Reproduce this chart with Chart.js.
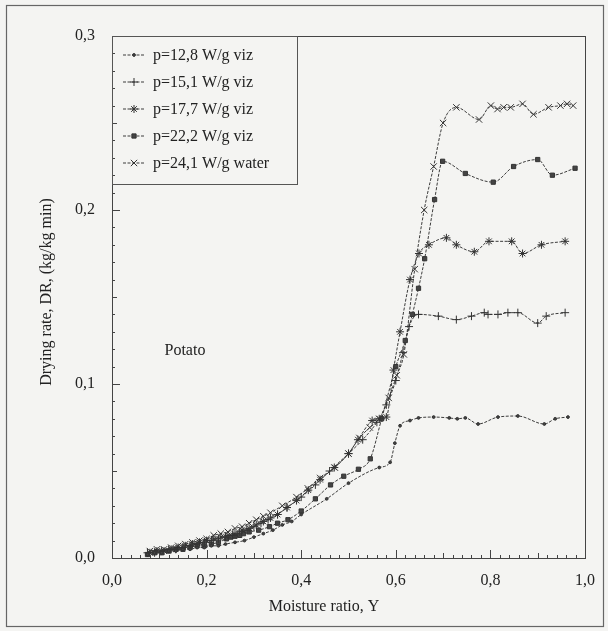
<!DOCTYPE html>
<html>
<head>
<meta charset="utf-8">
<script src="https://cdn.jsdelivr.net/npm/chart.js@4/dist/chart.umd.min.js"></script>
<style>
  body { margin: 0; background: #f4f4f2; }
  canvas { display: block; }
</style>
</head>
<body>
<canvas id="dryChart" width="608" height="631"></canvas>
<script>
let seriesLabels = [
  "p=12,8 W/g viz",
  "p=15,1 W/g viz",
  "p=17,7 W/g viz",
  "p=22,2 W/g viz",
  "p=24,1 W/g water",
];
let pointStyles = ["circle", "cross", "star", "rect", "crossRot"];
let pointSizes = [1.4, 4, 4, 3, 4.5];

// moisture ratio (x) and drying rate (y) for each power level
let moisture12_8 = [0.075, 0.09, 0.105, 0.12, 0.135, 0.15, 0.165, 0.18, 0.195, 0.21, 0.225, 0.24, 0.26, 0.28, 0.30, 0.32, 0.34, 0.36, 0.38, 0.40, 0.454, 0.50, 0.565, 0.588, 0.598, 0.609, 0.63, 0.648, 0.68, 0.713, 0.73, 0.747, 0.774, 0.816, 0.858, 0.914, 0.937, 0.964];
let rate12_8 = [0.002, 0.003, 0.003, 0.004, 0.004, 0.005, 0.005, 0.006, 0.006, 0.007, 0.007, 0.008, 0.009, 0.010, 0.012, 0.014, 0.016, 0.019, 0.021, 0.025, 0.034, 0.043, 0.052, 0.055, 0.066, 0.076, 0.079, 0.0805, 0.081, 0.0805, 0.080, 0.0805, 0.077, 0.081, 0.0816, 0.077, 0.080, 0.081];

let moisture15_1 = [0.075, 0.09, 0.105, 0.12, 0.135, 0.15, 0.165, 0.18, 0.195, 0.21, 0.225, 0.24, 0.255, 0.27, 0.285, 0.30, 0.315, 0.33, 0.35, 0.37, 0.40, 0.43, 0.46, 0.50, 0.53, 0.56, 0.58, 0.60, 0.615, 0.628, 0.648, 0.69, 0.728, 0.76, 0.787, 0.795, 0.816, 0.837, 0.858, 0.900, 0.918, 0.958];
let rate15_1 = [0.003, 0.003, 0.004, 0.005, 0.005, 0.006, 0.007, 0.008, 0.009, 0.010, 0.011, 0.012, 0.013, 0.015, 0.016, 0.018, 0.020, 0.022, 0.025, 0.029, 0.035, 0.042, 0.050, 0.060, 0.068, 0.078, 0.088, 0.102, 0.118, 0.133, 0.140, 0.139, 0.137, 0.139, 0.141, 0.140, 0.140, 0.141, 0.141, 0.135, 0.139, 0.141];

let moisture17_7 = [0.08, 0.095, 0.11, 0.125, 0.14, 0.155, 0.17, 0.185, 0.2, 0.215, 0.23, 0.245, 0.26, 0.275, 0.29, 0.305, 0.32, 0.335, 0.35, 0.37, 0.39, 0.415, 0.44, 0.47, 0.50, 0.52, 0.55, 0.565, 0.58, 0.595, 0.609, 0.63, 0.649, 0.67, 0.707, 0.728, 0.766, 0.797, 0.845, 0.868, 0.908, 0.958];
let rate17_7 = [0.003, 0.004, 0.004, 0.005, 0.006, 0.007, 0.008, 0.009, 0.010, 0.011, 0.012, 0.013, 0.014, 0.016, 0.017, 0.019, 0.021, 0.023, 0.025, 0.029, 0.033, 0.039, 0.045, 0.052, 0.060, 0.068, 0.079, 0.080, 0.081, 0.108, 0.130, 0.160, 0.175, 0.180, 0.184, 0.180, 0.176, 0.182, 0.182, 0.175, 0.180, 0.182];

let moisture22_2 = [0.075, 0.09, 0.105, 0.12, 0.135, 0.15, 0.165, 0.18, 0.195, 0.21, 0.225, 0.242, 0.251, 0.26, 0.27, 0.278, 0.29, 0.31, 0.333, 0.35, 0.372, 0.40, 0.43, 0.462, 0.49, 0.521, 0.546, 0.57, 0.60, 0.62, 0.635, 0.648, 0.661, 0.682, 0.699, 0.747, 0.806, 0.849, 0.900, 0.931, 0.979];
let rate22_2 = [0.002, 0.003, 0.003, 0.004, 0.005, 0.005, 0.006, 0.007, 0.007, 0.008, 0.009, 0.011, 0.012, 0.0125, 0.013, 0.014, 0.015, 0.016, 0.018, 0.020, 0.022, 0.027, 0.034, 0.042, 0.047, 0.051, 0.057, 0.080, 0.110, 0.125, 0.140, 0.155, 0.172, 0.206, 0.228, 0.221, 0.216, 0.225, 0.229, 0.220, 0.224];

let moisture24_1 = [0.08, 0.095, 0.11, 0.125, 0.14, 0.155, 0.17, 0.185, 0.2, 0.215, 0.23, 0.245, 0.26, 0.275, 0.29, 0.305, 0.32, 0.335, 0.36, 0.39, 0.414, 0.44, 0.471, 0.50, 0.523, 0.545, 0.565, 0.585, 0.602, 0.617, 0.64, 0.66, 0.68, 0.70, 0.728, 0.776, 0.801, 0.815, 0.828, 0.843, 0.868, 0.891, 0.923, 0.948, 0.962, 0.975];
let rate24_1 = [0.004, 0.005, 0.005, 0.006, 0.007, 0.008, 0.009, 0.010, 0.011, 0.013, 0.014, 0.015, 0.017, 0.018, 0.020, 0.022, 0.024, 0.026, 0.030, 0.035, 0.040, 0.046, 0.052, 0.060, 0.069, 0.075, 0.080, 0.092, 0.105, 0.117, 0.166, 0.200, 0.225, 0.250, 0.259, 0.252, 0.260, 0.258, 0.259, 0.259, 0.261, 0.255, 0.259, 0.260, 0.261, 0.260];

let xTickLabels = ["0,0", "0,2", "0,4", "0,6", "0,8", "1,0"];
let yTickLabels = ["0,0", "0,1", "0,2", "0,3"];

let inkColor = "#3c3c3c";
let serif = "'Liberation Serif', 'DejaVu Serif', serif";

function toPoints(xs, ys) {
  let pts = [];
  for (let i = 0; i < xs.length; i++) {
    pts.push({ x: xs[i], y: ys[i] });
  }
  return pts;
}

function getDatasets() {
  let xs = [moisture12_8, moisture15_1, moisture17_7, moisture22_2, moisture24_1];
  let ys = [rate12_8, rate15_1, rate17_7, rate22_2, rate24_1];
  return seriesLabels.map((label, i) => ({
    label: label,
    data: toPoints(xs[i], ys[i]),
    borderColor: inkColor,
    backgroundColor: inkColor,
    borderWidth: 1,
    borderDash: [3, 1.5],
    pointStyle: pointStyles[i],
    pointRadius: pointSizes[i],
    pointBorderWidth: 1,
    pointBorderColor: "#333",
    pointBackgroundColor: "#444",
    cubicInterpolationMode: "monotone",
    fill: false,
  }));
}

// page background, frame, box around the plot and inward ticks
let framePlugin = {
  id: "frame",
  beforeDraw(c) {
    let ctx = c.ctx;
    ctx.save();
    ctx.fillStyle = "#f4f4f2";
    ctx.fillRect(0, 0, c.width, c.height);
    ctx.strokeStyle = "#666";
    ctx.lineWidth = 1.2;
    ctx.strokeRect(6.5, 5.5, 597, 621);
    ctx.restore();
  },
  afterDraw(c) {
    let ctx = c.ctx;
    let a = c.chartArea;
    let xs = c.scales.x;
    let ys = c.scales.y;
    ctx.save();
    ctx.strokeStyle = "#444";
    ctx.lineWidth = 1;
    ctx.strokeRect(a.left + 0.5, a.top + 0.5, a.right - a.left, a.bottom - a.top);

    ctx.beginPath();
    for (let i = 0; i <= 50; i++) {
      let px = Math.round(xs.getPixelForValue(i / 50)) + 0.5;
      let len = i % 10 === 0 ? 8 : i % 5 === 0 ? 5 : 3;
      ctx.moveTo(px, a.bottom);
      ctx.lineTo(px, a.bottom - len);
    }
    for (let i = 0; i <= 30; i++) {
      let py = Math.round(ys.getPixelForValue(i / 100)) + 0.5;
      let len = i % 10 === 0 ? 8 : i % 5 === 0 ? 5 : 3;
      ctx.moveTo(a.left, py);
      ctx.lineTo(a.left + len, py);
    }
    ctx.stroke();

    // axis titles and the sample name
    ctx.fillStyle = "#222";
    ctx.font = "16px " + serif;
    ctx.textAlign = "center";
    ctx.textBaseline = "middle";
    ctx.fillText("Moisture ratio, Y", 324, 607);
    ctx.save();
    ctx.translate(47, 292);
    ctx.rotate(-Math.PI / 2);
    ctx.fillText("Drying rate, DR, (kg/kg min)", 0, 0);
    ctx.restore();
    ctx.textAlign = "left";
    ctx.fillText("Potato", xs.getPixelForValue(0.111), ys.getPixelForValue(0.119));

    // legend box
    ctx.strokeStyle = "#555";
    ctx.strokeRect(a.left + 0.5, a.top + 0.5, 185, 148);
    c.data.datasets.forEach((ds, i) => {
      let rowY = 55 + i * 27;
      ctx.save();
      ctx.strokeStyle = inkColor;
      ctx.setLineDash([3, 1.5]);
      ctx.beginPath();
      ctx.moveTo(123, rowY);
      ctx.lineTo(145, rowY);
      ctx.stroke();
      ctx.restore();
      ctx.strokeStyle = "#333";
      ctx.fillStyle = "#444";
      Chart.helpers.drawPoint(ctx, {
        pointStyle: ds.pointStyle,
        radius: ds.pointRadius,
        rotation: 0,
        borderWidth: 1,
      }, 134, rowY);
      ctx.fillStyle = "#222";
      ctx.fillText(ds.label, 153, rowY + 1);
    });
    ctx.restore();
  },
};

new Chart(document.getElementById("dryChart"), {
  type: "line",
  data: { datasets: getDatasets() },
  options: {
    responsive: false,
    animation: false,
    layout: { padding: { left: 0, right: 18, top: 36, bottom: 0 } },
    plugins: {
      legend: { display: false },
      tooltip: { enabled: false },
    },
    scales: {
      x: {
        type: "linear",
        min: 0,
        max: 1,
        afterFit: (s) => { s.height = 73; },
        afterBuildTicks: (s) => {
          s.ticks = xTickLabels.map((t, i) => ({ value: i * 0.2 }));
        },
        grid: { display: false, drawTicks: false },
        border: { display: false },
        ticks: {
          padding: 13,
          color: "#222",
          font: { family: serif, size: 16 },
          callback: (v, i) => xTickLabels[i],
        },
      },
      y: {
        type: "linear",
        min: 0,
        max: 0.3,
        afterFit: (s) => { s.width = 112; },
        afterBuildTicks: (s) => {
          s.ticks = yTickLabels.map((t, i) => ({ value: i * 0.1 }));
        },
        grid: { display: false, drawTicks: false },
        border: { display: false },
        ticks: {
          padding: 17,
          color: "#222",
          font: { family: serif, size: 16 },
          callback: (v, i) => yTickLabels[i],
        },
      },
    },
  },
  plugins: [framePlugin],
});
</script>
</body>
</html>
